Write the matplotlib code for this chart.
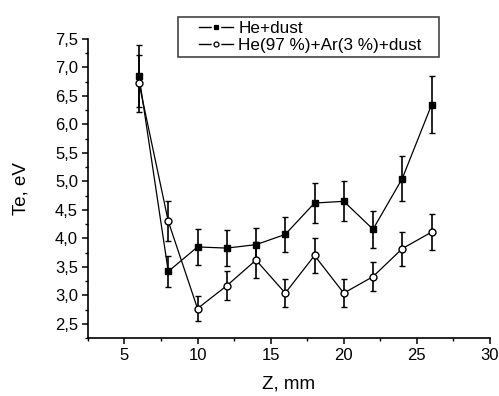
import numpy as np
import matplotlib.pyplot as plt
from matplotlib.lines import Line2D
from matplotlib.patches import Rectangle
from matplotlib.legend_handler import HandlerTuple
from matplotlib.ticker import MultipleLocator, FuncFormatter

plt.rcParams['font.family'] = ['Liberation Sans', 'DejaVu Sans']

# data
z = [6, 8, 10, 12, 14, 16, 18, 20, 22, 24, 26]
te_he = [6.85, 3.42, 3.85, 3.83, 3.89, 4.07, 4.62, 4.65, 4.16, 5.05, 6.34]
err_he = [0.55, 0.27, 0.32, 0.32, 0.30, 0.30, 0.35, 0.35, 0.32, 0.40, 0.50]
te_ar = [6.72, 4.30, 2.77, 3.17, 3.62, 3.04, 3.70, 3.04, 3.33, 3.82, 4.11]
err_ar = [0.50, 0.35, 0.22, 0.25, 0.32, 0.24, 0.30, 0.24, 0.25, 0.30, 0.32]
labels = ['He+dust', 'He(97 %)+Ar(3 %)+dust']

W, H = 499, 396
fig = plt.figure(figsize=(W / 100, H / 100), dpi=100)
ax = fig.add_axes([0.176, 0.146, 0.806, 0.756])

ax.errorbar(z, te_he, yerr=err_he, fmt='-s', color='black', lw=0.9,
            ms=5, mfc='black', mec='black', elinewidth=1.2, capsize=2.5,
            capthick=1.0)
ax.errorbar(z, te_ar, yerr=err_ar, fmt='-o', color='black', lw=0.9,
            ms=5, mfc='white', mec='black', mew=1.0, elinewidth=1.2,
            capsize=2.5, capthick=1.0)

ax.set_xlim(2.5, 30)
ax.set_ylim(2.25, 7.5)
ax.xaxis.set_major_locator(MultipleLocator(5))
ax.xaxis.set_minor_locator(MultipleLocator(2.5))
ax.yaxis.set_major_locator(MultipleLocator(0.5))
ax.yaxis.set_minor_locator(MultipleLocator(0.25))
ax.yaxis.set_major_formatter(FuncFormatter(lambda v, p: ('%.1f' % v).replace('.', ',')))

for s in ['top', 'right']:
    ax.spines[s].set_visible(False)
for s in ['left', 'bottom']:
    ax.spines[s].set_linewidth(1.2)
ax.tick_params(which='major', direction='out', length=4, width=1.1, labelsize=12, pad=3)
ax.tick_params(which='minor', direction='out', length=2.5, width=1.0)

ax.set_xlabel('Z, mm', fontsize=13.5, labelpad=9)
ax.set_ylabel('Te, eV', fontsize=13.5, labelpad=18)

# legend: line - marker - line, with a small gap round the marker
def handle(marker, fill):
    line = Line2D([], [], color='black', lw=1.0)
    gap = Line2D([], [], ls='none', marker=marker, ms=6, mfc='white', mec='white')
    mark = Line2D([], [], ls='none', marker=marker, ms=3.5, mfc=fill,
                  mec='black', mew=0.9)
    return (line, gap, mark)

handles = [handle('s', 'black'), handle('o', 'white')]
leg = ax.legend(handles, labels, loc='upper left', bbox_to_anchor=(199 / W, 0.947),
                bbox_transform=fig.transFigure, borderaxespad=0, fontsize=12.3,
                frameon=False, handlelength=2.0, handletextpad=0.3,
                borderpad=0.0, labelspacing=0.1,
                handler_map={tuple: HandlerTuple(ndivide=1)})

fig.patches.append(Rectangle((178 / W, 1 - 57 / H), (439 - 178) / W, 40 / H,
                             transform=fig.transFigure, fill=False,
                             edgecolor='#444444', lw=1.2, figure=fig))

fig.savefig('out.png', dpi=100)
